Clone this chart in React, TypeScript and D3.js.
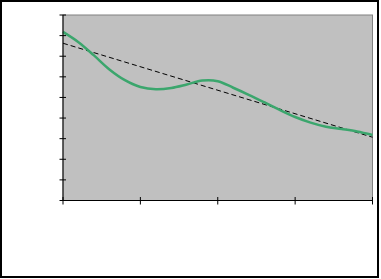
import React from "react";
import * as d3 from "d3";

const xValues = [0, 2, 4, 6, 8, 10, 12, 14, 16, 18, 20, 22, 24, 26, 28, 30, 32, 34, 36, 38, 40];
const seriesValues = [8.18, 7.68, 7.04, 6.36, 5.84, 5.51, 5.4, 5.46, 5.63, 5.82, 5.79, 5.47, 5.13, 4.77, 4.4, 4.05, 3.78, 3.58, 3.47, 3.35, 3.18];
const trendX = [0, 40];
const trendValues = [7.63, 3.07];
const xTicks = [0, 10, 20, 30, 40];
const yTicks = [0, 1, 2, 3, 4, 5, 6, 7, 8, 9];

export default function App() {
  const W = 381, H = 279;
  const left = 63, right = 372.5, top = 15, bottom = 200.5;
  const x = d3.scaleLinear().domain([0, 40]).range([left, right]);
  const y = d3.scaleLinear().domain([0, 9]).range([bottom, top]);
  const line = d3
    .line<number>()
    .x((_, i) => x(xValues[i]))
    .y((d) => y(d))
    .curve(d3.curveCatmullRom.alpha(0.5));
  const trend = d3
    .line<number>()
    .x((_, i) => x(trendX[i]))
    .y((d) => y(d));
  return (
    <svg width={W} height={H} style={{ position: "absolute", left: 0, top: 0 }}>
      <rect x={0} y={0} width={W} height={H} fill="#fff" />
      <rect x={1} y={1} width={377} height={276} fill="none" stroke="#000" strokeWidth={2} />
      <rect x={left} y={top} width={right - left} height={bottom - top} fill="#C0C0C0" stroke="#808080" strokeWidth={1} />
      <path d={trend(trendValues) || ""} fill="none" stroke="#000" strokeWidth={1} strokeDasharray="5,3" />
      <path d={line(seriesValues) || ""} fill="none" stroke="#3BA66D" strokeWidth={2.5} />
      <line x1={left} x2={left} y1={top} y2={bottom} stroke="#000" strokeWidth={1} />
      <line x1={left} x2={right} y1={bottom} y2={bottom} stroke="#000" strokeWidth={1} />
      {yTicks.map((t) => (
        <line key={"y" + t} x1={left - 3.5} x2={left + 3} y1={y(t)} y2={y(t)} stroke="#000" strokeWidth={1} />
      ))}
      {xTicks.map((t) => (
        <line key={"x" + t} x1={x(t)} x2={x(t)} y1={bottom - 3.5} y2={bottom + 4} stroke="#000" strokeWidth={1} />
      ))}
    </svg>
  );
}
